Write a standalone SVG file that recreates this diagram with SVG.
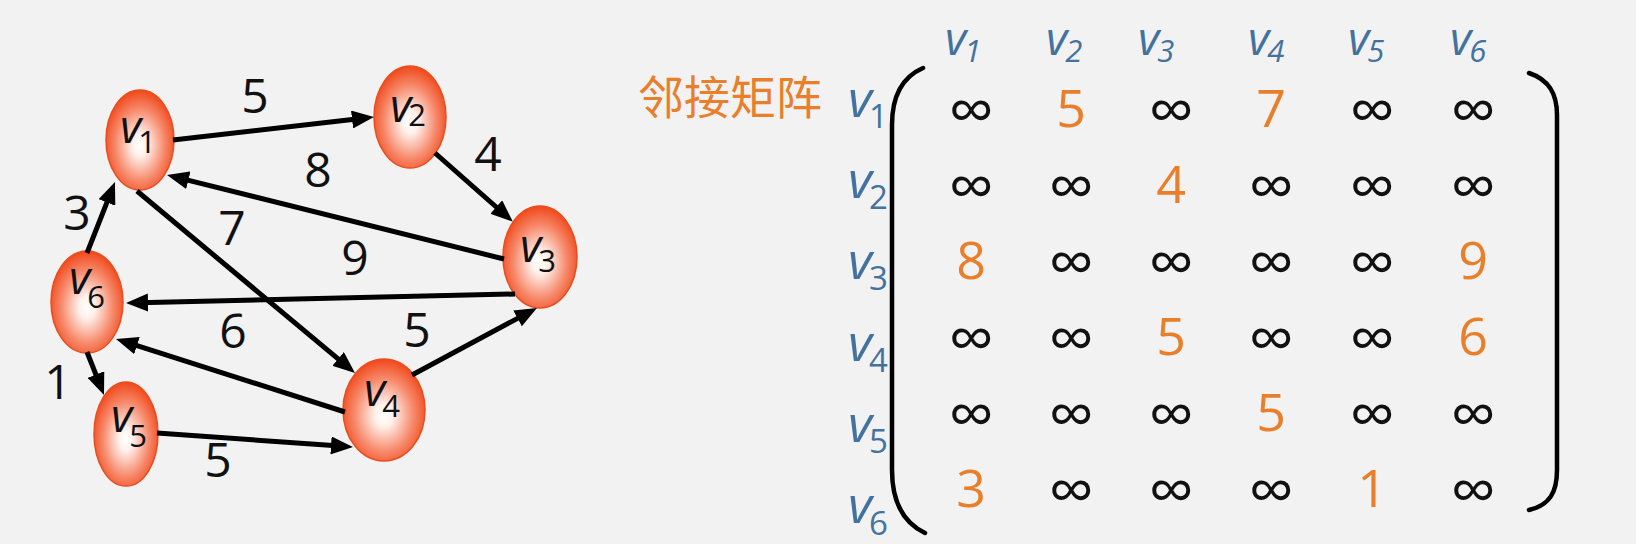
<svg xmlns="http://www.w3.org/2000/svg" width="1636" height="544" viewBox="0 0 1636 544">
<style>
.bg{fill:#f2f2f2}
.node{fill:url(#ng);stroke:#ea4c1c;stroke-width:1.5}
.nl{font-family:"Open Sans","Liberation Sans",sans-serif;fill:#111}
.nv{font-style:italic;font-size:46px}
.ns{font-size:31px}
.edge{stroke:#000;stroke-width:5;fill:none;marker-end:url(#ah)}
.el{font-family:"Open Sans","Liberation Sans",sans-serif;font-size:48px;fill:#111;text-anchor:middle}
.title{font-family:"Noto Sans CJK SC",sans-serif;font-size:46px;fill:#e97f2b}
.hd{font-family:"Open Sans","Liberation Sans",sans-serif;fill:#44729f;font-style:italic}
.rl{font-family:"Open Sans","Liberation Sans",sans-serif;fill:#44729f}
.cell{font-family:"Open Sans","Liberation Sans",sans-serif;font-size:52px;text-anchor:middle}
.inf{fill:#111;font-size:64px}
.val{fill:#e97f2b}
.br{stroke:#000;stroke-width:4.5;fill:none;stroke-linecap:round}
</style>
<defs>
<radialGradient id="ng" cx="50%" cy="55%" r="55%">
<stop offset="0" stop-color="#ffffff"/>
<stop offset="0.2" stop-color="#fff1ec"/>
<stop offset="0.65" stop-color="#f78a6c"/>
<stop offset="1" stop-color="#f0481a"/>
</radialGradient>
<marker id="ah" markerUnits="userSpaceOnUse" markerWidth="22" markerHeight="18" refX="9" refY="9" orient="auto">
<path d="M0,0 L22,9 L0,18 z" fill="#000"/>
</marker>
</defs>
<rect class="bg" x="0" y="0" width="1636" height="544"/>

<g id="nodes">
<g id="v1"><ellipse class="node" cx="140" cy="140" rx="34" ry="50"/><text class="nl" x="120" y="143"><tspan class="nv">v</tspan><tspan class="ns" dx="-3" dy="10">1</tspan></text></g>
<g id="v2"><ellipse class="node" cx="410" cy="117" rx="36" ry="51"/><text class="nl" x="390" y="122"><tspan class="nv">v</tspan><tspan class="ns" dx="-3" dy="4">2</tspan></text></g>
<g id="v3"><ellipse class="node" cx="540" cy="257" rx="37" ry="51"/><text class="nl" x="520" y="262"><tspan class="nv">v</tspan><tspan class="ns" dx="-3" dy="10">3</tspan></text></g>
<g id="v4"><ellipse class="node" cx="384" cy="410" rx="41" ry="51"/><text class="nl" x="364" y="406"><tspan class="nv">v</tspan><tspan class="ns" dx="-3" dy="11">4</tspan></text></g>
<g id="v5"><ellipse class="node" cx="126" cy="434" rx="32" ry="52"/><text class="nl" x="111" y="432"><tspan class="nv">v</tspan><tspan class="ns" dx="-3" dy="15">5</tspan></text></g>
<g id="v6"><ellipse class="node" cx="87" cy="302" rx="36" ry="51"/><text class="nl" x="69" y="294"><tspan class="nv">v</tspan><tspan class="ns" dx="-3" dy="14">6</tspan></text></g>
</g>

<g id="connectors">
<line class="edge" x1="173" y1="140" x2="361" y2="118.5"/>
<line class="edge" x1="435" y1="153" x2="503" y2="213"/>
<line class="edge" x1="504" y1="259" x2="179.6" y2="178.1"/>
<line class="edge" x1="515" y1="294" x2="139" y2="302.7"/>
<line class="edge" x1="412" y1="375" x2="525.5" y2="314.1"/>
<line class="edge" x1="137" y1="191" x2="345" y2="364.7"/>
<line class="edge" x1="345" y1="412" x2="128.4" y2="342.9"/>
<line class="edge" x1="87" y1="253" x2="110.2" y2="194.1"/>
<line class="edge" x1="87" y1="352" x2="99.2" y2="382.9"/>
<line class="edge" x1="157" y1="433" x2="340" y2="446.1"/>
</g>

<g id="edge-labels">
<text class="el" x="255" y="113">5</text>
<text class="el" x="318" y="187">8</text>
<text class="el" x="488" y="171">4</text>
<text class="el" x="77" y="230">3</text>
<text class="el" x="232" y="245">7</text>
<text class="el" x="355" y="275">9</text>
<text class="el" x="233" y="348">6</text>
<text class="el" x="417" y="347">5</text>
<text class="el" x="58" y="399">1</text>
<text class="el" x="218" y="477">5</text>
</g>

<g id="matrix">
<text class="title" x="638" y="114">邻接矩阵</text>
<g id="col-headers">
<text class="hd" x="945" y="55"><tspan font-size="46px">v</tspan><tspan font-size="31px" dx="-2" dy="7">1</tspan></text>
<text class="hd" x="1046" y="55"><tspan font-size="46px">v</tspan><tspan font-size="31px" dx="-2" dy="7">2</tspan></text>
<text class="hd" x="1138" y="55"><tspan font-size="46px">v</tspan><tspan font-size="31px" dx="-2" dy="7">3</tspan></text>
<text class="hd" x="1248" y="55"><tspan font-size="46px">v</tspan><tspan font-size="31px" dx="-2" dy="7">4</tspan></text>
<text class="hd" x="1348" y="55"><tspan font-size="46px">v</tspan><tspan font-size="31px" dx="-2" dy="7">5</tspan></text>
<text class="hd" x="1450" y="55"><tspan font-size="46px">v</tspan><tspan font-size="31px" dx="-2" dy="7">6</tspan></text>
</g>
<g id="row-labels">
<text class="rl" x="848" y="117"><tspan font-size="52px" font-style="italic">v</tspan><tspan font-size="33px" dx="-3" dy="11">1</tspan></text>
<text class="rl" x="848" y="198"><tspan font-size="52px" font-style="italic">v</tspan><tspan font-size="33px" dx="-3" dy="11">2</tspan></text>
<text class="rl" x="848" y="279"><tspan font-size="52px" font-style="italic">v</tspan><tspan font-size="33px" dx="-3" dy="11">3</tspan></text>
<text class="rl" x="848" y="361"><tspan font-size="52px" font-style="italic">v</tspan><tspan font-size="33px" dx="-3" dy="11">4</tspan></text>
<text class="rl" x="848" y="442"><tspan font-size="52px" font-style="italic">v</tspan><tspan font-size="33px" dx="-3" dy="11">5</tspan></text>
<text class="rl" x="848" y="523"><tspan font-size="52px" font-style="italic">v</tspan><tspan font-size="33px" dx="-3" dy="12">6</tspan></text>
</g>
<path class="br" d="M923,68 C900,78 892,100 892,125 L892,470 C892,500 902,522 925,533"/>
<path class="br" d="M1529,73 C1550,80 1557,95 1557,115 L1557,470 C1557,492 1550,505 1529,510"/>
<g id="cells">
<text class="cell inf" x="971" y="133">∞</text><text class="cell val" x="1071" y="127">5</text><text class="cell inf" x="1171" y="133">∞</text><text class="cell val" x="1271" y="127">7</text><text class="cell inf" x="1372" y="133">∞</text><text class="cell inf" x="1473" y="133">∞</text>
<text class="cell inf" x="971" y="209">∞</text><text class="cell inf" x="1071" y="209">∞</text><text class="cell val" x="1171" y="203">4</text><text class="cell inf" x="1271" y="209">∞</text><text class="cell inf" x="1372" y="209">∞</text><text class="cell inf" x="1473" y="209">∞</text>
<text class="cell val" x="971" y="279">8</text><text class="cell inf" x="1071" y="285">∞</text><text class="cell inf" x="1171" y="285">∞</text><text class="cell inf" x="1271" y="285">∞</text><text class="cell inf" x="1372" y="285">∞</text><text class="cell val" x="1473" y="279">9</text>
<text class="cell inf" x="971" y="361">∞</text><text class="cell inf" x="1071" y="361">∞</text><text class="cell val" x="1171" y="355">5</text><text class="cell inf" x="1271" y="361">∞</text><text class="cell inf" x="1372" y="361">∞</text><text class="cell val" x="1473" y="355">6</text>
<text class="cell inf" x="971" y="437">∞</text><text class="cell inf" x="1071" y="437">∞</text><text class="cell inf" x="1171" y="437">∞</text><text class="cell val" x="1271" y="431">5</text><text class="cell inf" x="1372" y="437">∞</text><text class="cell inf" x="1473" y="437">∞</text>
<text class="cell val" x="971" y="507">3</text><text class="cell inf" x="1071" y="513">∞</text><text class="cell inf" x="1171" y="513">∞</text><text class="cell inf" x="1271" y="513">∞</text><text class="cell val" x="1372" y="507">1</text><text class="cell inf" x="1473" y="513">∞</text>
</g>
</g>
</svg>
